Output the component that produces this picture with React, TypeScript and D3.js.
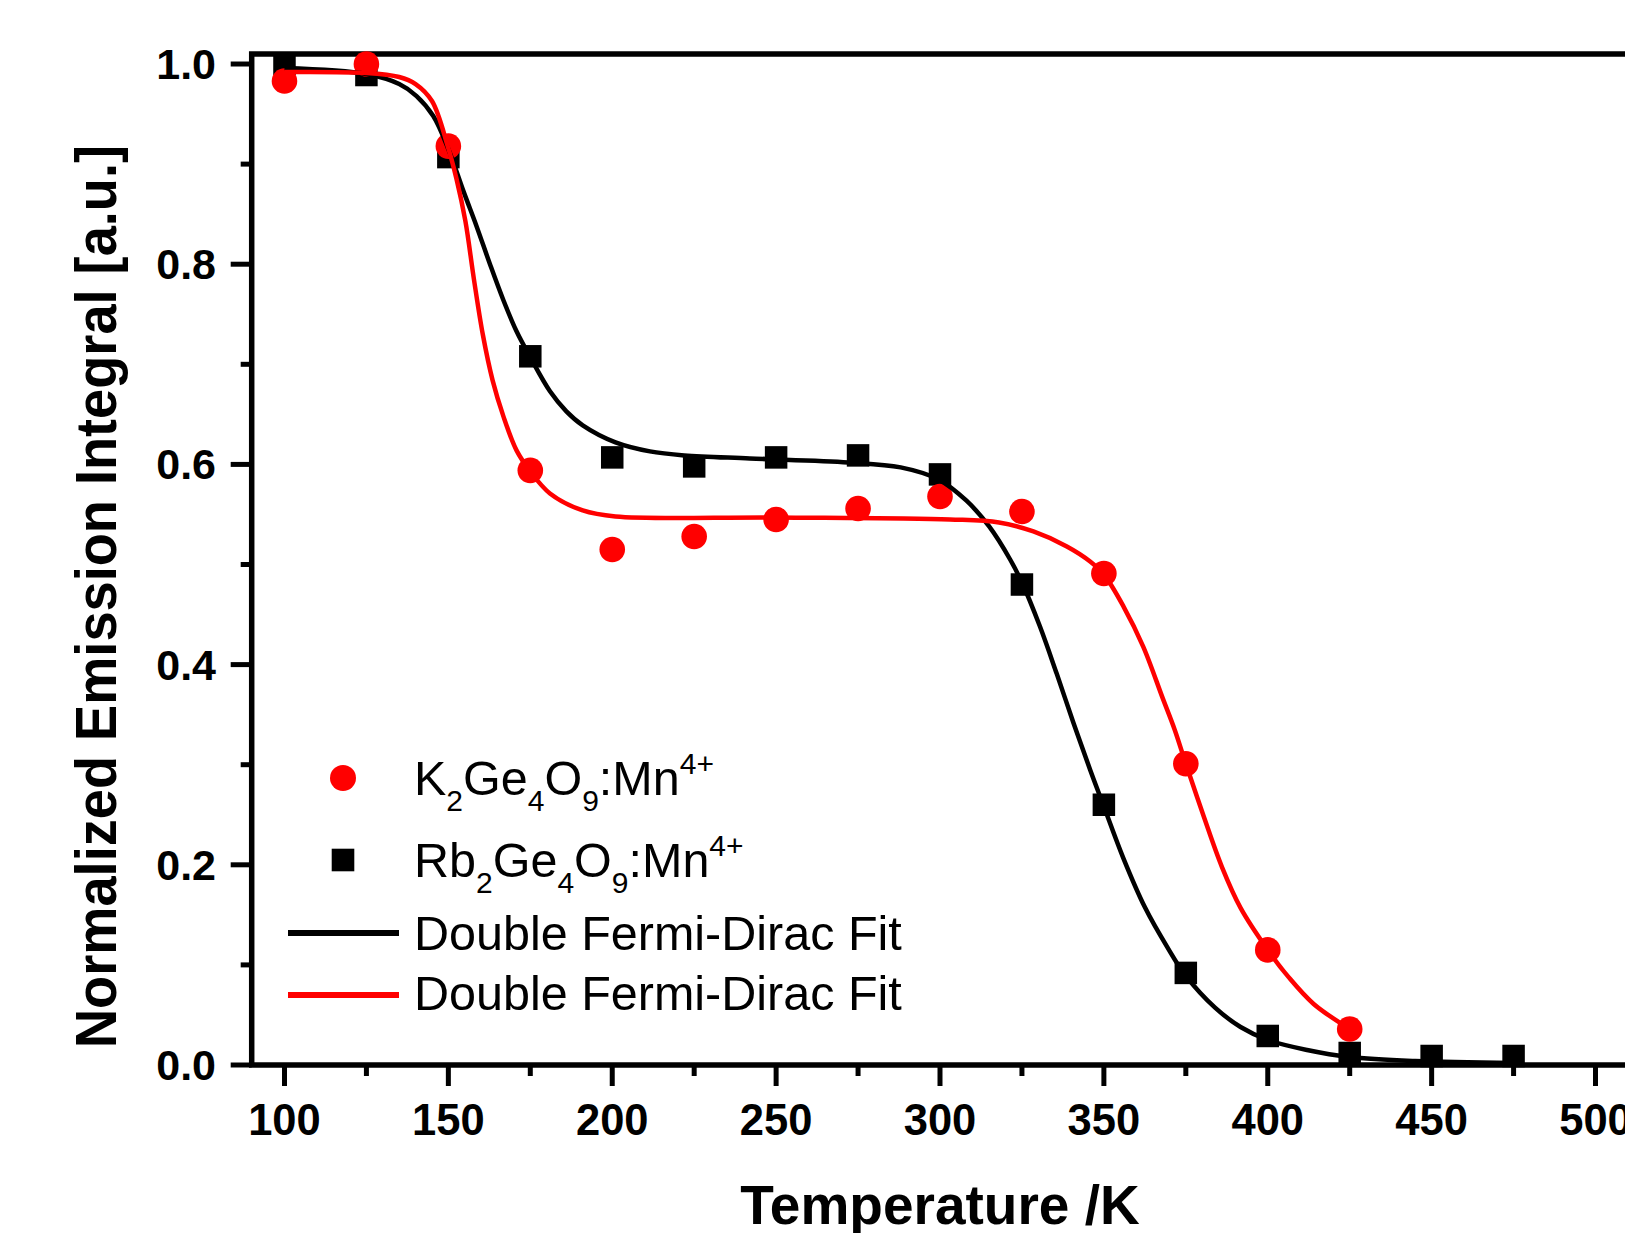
import React from "react";
import * as d3 from "d3";

// Measured data points
const temps = [100, 125, 150, 175, 200, 225, 250, 275, 300, 325, 350, 375, 400, 425, 450, 475];
const rbValues = [1.0, 0.989, 0.907, 0.708, 0.607, 0.598, 0.607, 0.609, 0.590, 0.480, 0.260, 0.092, 0.029, 0.012, 0.009, 0.009];
const kTemps = [100, 125, 150, 175, 200, 225, 250, 275, 300, 325, 350, 375, 400, 425];
const kValues = [0.983, 1.0, 0.918, 0.594, 0.515, 0.528, 0.545, 0.556, 0.568, 0.553, 0.491, 0.301, 0.115, 0.036];

// Fit curves
const rbFitT = [100, 125, 135, 140.3, 145.4, 150, 154.6, 158.6, 162.7, 166.8, 170.8, 175, 181, 186, 191, 201, 211.5, 222, 242, 272, 288, 299.5, 308, 315, 321.4, 325, 330.5, 335.6, 340.7, 345.8, 349.8, 355.9, 362.6, 369.3, 375, 384, 391.7, 400, 412, 425, 445, 475];
const rbFitV = [0.996, 0.990, 0.980, 0.968, 0.948, 0.915, 0.873, 0.838, 0.800, 0.764, 0.733, 0.707, 0.673, 0.653, 0.639, 0.622, 0.613, 0.609, 0.606, 0.602, 0.597, 0.585, 0.564, 0.538, 0.505, 0.482, 0.438, 0.391, 0.342, 0.295, 0.260, 0.207, 0.157, 0.118, 0.089, 0.057, 0.038, 0.025, 0.015, 0.008, 0.004, 0.002];
const kFitT = [100, 125, 135, 140, 145, 149.8, 152.5, 155.2, 157.8, 160.5, 163.5, 166.8, 170.8, 175, 181, 191, 201, 250, 303, 318, 328.5, 338.7, 345.8, 350, 356, 362, 368, 371.6, 375, 380.5, 386, 391.7, 400, 406.3, 414, 425];
const kFitV = [0.992, 0.991, 0.987, 0.980, 0.963, 0.918, 0.885, 0.843, 0.785, 0.730, 0.684, 0.648, 0.614, 0.593, 0.571, 0.554, 0.548, 0.547, 0.545, 0.542, 0.533, 0.518, 0.503, 0.490, 0.458, 0.418, 0.366, 0.335, 0.301, 0.248, 0.198, 0.157, 0.115, 0.088, 0.061, 0.036];

const xMajor = [100, 150, 200, 250, 300, 350, 400, 450, 500];
const xMinor = [125, 175, 225, 275, 325, 375, 425, 475];
const yMajor = [0, 0.2, 0.4, 0.6, 0.8, 1.0];
const yMinor = [0.1, 0.3, 0.5, 0.7, 0.9];

const xTitle = "Temperature /K";
const yTitle = "Normalized Emission Integral [a.u.]";
const fitLabel = "Double Fermi-Dirac Fit";

const RED = "#ff0000";
const FONT = "Arial, 'Liberation Sans', Helvetica, sans-serif";

export default function App() {
  const W = 1625, H = 1233;
  const x = d3.scaleLinear().domain([90, 510]).range([251.7, 1628.3]);
  const y = d3.scaleLinear().domain([0, 1.01]).range([1065, 54]);
  const left = x(90), right = x(510), top = y(1.01), bottom = y(0);

  const line = d3
    .line<[number, number]>()
    .x((d) => x(d[0]))
    .y((d) => y(d[1]))
    .curve(d3.curveCatmullRom.alpha(0.5));

  const rbFit = rbFitT.map((t, i) => [t, rbFitV[i]] as [number, number]);
  const kFit = kFitT.map((t, i) => [t, kFitV[i]] as [number, number]);

  const sq = 22.5;
  const legX = 414;
  const sub = 30;
  const main = 48.5;

  const formula = (prefix: string) => (
    <>
      <tspan>{prefix}</tspan>
      <tspan fontSize={sub} dy={16}>2</tspan>
      <tspan fontSize={main} dy={-16}>Ge</tspan>
      <tspan fontSize={sub} dy={16}>4</tspan>
      <tspan fontSize={main} dy={-16}>O</tspan>
      <tspan fontSize={sub} dy={16}>9</tspan>
      <tspan fontSize={main} dy={-16}>:Mn</tspan>
      <tspan fontSize={sub} dy={-21}>4+</tspan>
    </>
  );

  return (
    <svg
      width={W}
      height={H}
      style={{ position: "absolute", left: 0, top: 0, background: "#fff" }}
      fontFamily={FONT}
    >
      <rect x={0} y={0} width={W} height={H} fill="#fff" />

      {/* Frame */}
      <rect x={left} y={top} width={right - left} height={bottom - top} fill="none" stroke="#000" strokeWidth={5.5} />

      {/* Y ticks */}
      {yMajor.map((v) => (
        <g key={"ym" + v}>
          <line x1={left} x2={left - 21} y1={y(v)} y2={y(v)} stroke="#000" strokeWidth={5} />
          <text x={216} y={y(v)} textAnchor="end" dominantBaseline="central" fontSize={43} fontWeight="bold">
            {v.toFixed(1)}
          </text>
        </g>
      ))}
      {yMinor.map((v) => (
        <line key={"yn" + v} x1={left} x2={left - 11} y1={y(v)} y2={y(v)} stroke="#000" strokeWidth={5} />
      ))}

      {/* X ticks */}
      {xMajor.map((t) => (
        <g key={"xm" + t}>
          <line x1={x(t)} x2={x(t)} y1={bottom} y2={bottom + 21} stroke="#000" strokeWidth={5} />
          <text x={x(t)} y={1135} textAnchor="middle" fontSize={43.5} fontWeight="bold">
            {t}
          </text>
        </g>
      ))}
      {xMinor.map((t) => (
        <line key={"xn" + t} x1={x(t)} x2={x(t)} y1={bottom} y2={bottom + 11} stroke="#000" strokeWidth={5} />
      ))}

      {/* Axis titles */}
      <text x={940} y={1224} textAnchor="middle" fontSize={55} fontWeight="bold">
        {xTitle}
      </text>
      <text
        transform={`translate(116, 596.5) rotate(-90)`}
        textAnchor="middle"
        fontSize={57}
        fontWeight="bold"
        textLength={903}
        lengthAdjust="spacingAndGlyphs"
      >
        {yTitle}
      </text>

      {/* Data markers */}
      {temps.map((t, i) => (
        <rect key={"s" + t} x={x(t) - sq / 2} y={y(rbValues[i]) - sq / 2} width={sq} height={sq} fill="#000" />
      ))}
      {kTemps.map((t, i) => (
        <circle key={"c" + t} cx={x(t)} cy={y(kValues[i])} r={12.8} fill={RED} />
      ))}

      {/* Fit curves */}
      <path d={line(rbFit) || ""} fill="none" stroke="#000" strokeWidth={4.5} />
      <path d={line(kFit) || ""} fill="none" stroke={RED} strokeWidth={4.5} />

      {/* Legend */}
      <circle cx={343} cy={778} r={13} fill={RED} />
      <text x={legX} y={795} fontSize={main}>
        {formula("K")}
      </text>
      <rect x={343 - 11.3} y={860 - 11.3} width={22.6} height={22.6} fill="#000" />
      <text x={legX} y={877} fontSize={main}>
        {formula("Rb")}
      </text>
      <line x1={288} x2={399} y1={933} y2={933} stroke="#000" strokeWidth={6} />
      <text x={legX} y={950} fontSize={main}>
        {fitLabel}
      </text>
      <line x1={288} x2={399} y1={995} y2={995} stroke={RED} strokeWidth={6} />
      <text x={legX} y={1010} fontSize={main}>
        {fitLabel}
      </text>
    </svg>
  );
}
